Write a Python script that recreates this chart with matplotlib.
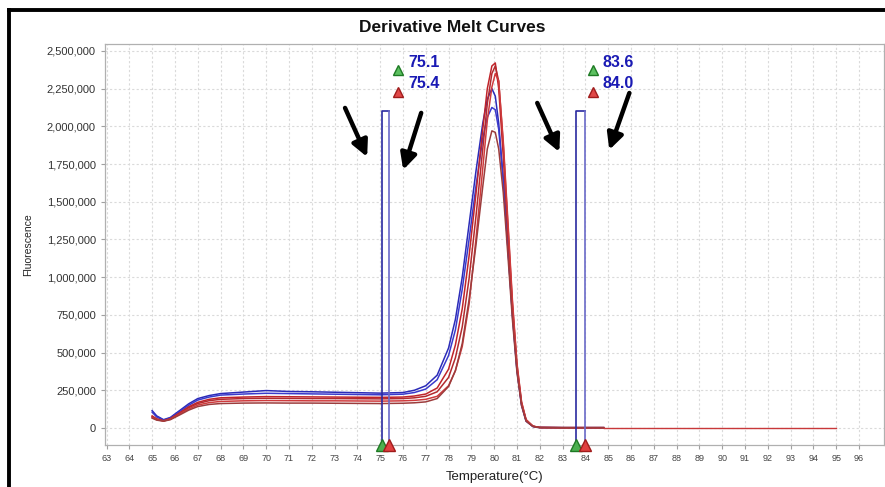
import numpy as np
import matplotlib
matplotlib.use('Agg')
import matplotlib.pyplot as plt
from matplotlib.lines import Line2D
from matplotlib.ticker import FuncFormatter, MultipleLocator

plt.rcParams['font.family'] = ['Liberation Sans', 'DejaVu Sans']

# temperature grid shared by the melt curves (deg C)
temps = [65.0, 65.2, 65.5, 65.8, 66.2, 66.6, 67.0, 67.5, 68.0, 69.0, 70.0,
         71.0, 72.0, 73.0, 74.0, 75.0, 76.0, 76.5, 77.0, 77.5, 78.0, 78.3,
         78.6, 78.9, 79.2, 79.5, 79.7, 79.9, 80.05, 80.2, 80.4, 80.6, 80.8,
         81.0, 81.2, 81.4, 81.7, 82.0, 83.0, 84.0, 84.8]

# -dF/dT values
blue_1 = [115e3, 80e3, 55e3, 70e3, 115e3, 160e3, 195e3, 215e3, 228e3, 238e3, 248e3,
          242e3, 240e3, 237e3, 234e3, 231e3, 235e3, 250e3, 280e3, 350e3, 530e3, 720e3,
          1000e3, 1350e3, 1700e3, 2020e3, 2180e3, 2250e3, 2200e3, 2020e3, 1650e3, 1200e3, 750e3,
          380e3, 150e3, 45e3, 10e3, 3e3, 2e3, 2e3, 2e3]
blue_2 = [105e3, 72e3, 52e3, 66e3, 108e3, 150e3, 185e3, 205e3, 218e3, 225e3, 230e3,
          228e3, 226e3, 224e3, 222e3, 220e3, 224e3, 235e3, 258e3, 320e3, 480e3, 650e3,
          920e3, 1250e3, 1600e3, 1920e3, 2060e3, 2125e3, 2110e3, 1980e3, 1640e3, 1200e3, 760e3,
          390e3, 160e3, 50e3, 10e3, 3e3, 2e3, 2e3, 2e3]
red_1 = [80e3, 60e3, 48e3, 62e3, 100e3, 140e3, 170e3, 190e3, 200e3, 205e3, 208e3,
         207e3, 206e3, 205e3, 204e3, 203e3, 205e3, 212e3, 225e3, 265e3, 390e3, 550e3,
         790e3, 1140e3, 1550e3, 1980e3, 2250e3, 2400e3, 2420e3, 2250e3, 1800e3, 1300e3, 800e3,
         400e3, 160e3, 50e3, 12e3, 3e3, 2e3, 2e3, 2e3]
red_2 = [75e3, 58e3, 47e3, 60e3, 96e3, 134e3, 162e3, 181e3, 190e3, 195e3, 197e3,
         196e3, 195e3, 195e3, 194e3, 193e3, 195e3, 200e3, 210e3, 240e3, 335e3, 465e3,
         670e3, 990e3, 1400e3, 1850e3, 2150e3, 2350e3, 2400e3, 2300e3, 1880e3, 1350e3, 830e3,
         420e3, 170e3, 55e3, 12e3, 3e3, 2e3, 2e3, 2e3]
red_3 = [70e3, 55e3, 46e3, 58e3, 92e3, 126e3, 152e3, 168e3, 176e3, 180e3, 182e3,
         181e3, 180e3, 180e3, 179e3, 178e3, 180e3, 183e3, 190e3, 210e3, 280e3, 380e3,
         540e3, 820e3, 1250e3, 1720e3, 2040e3, 2260e3, 2350e3, 2300e3, 1900e3, 1380e3, 850e3,
         430e3, 175e3, 55e3, 12e3, 3e3, 2e3, 2e3, 2e3]
red_4 = [65e3, 52e3, 45e3, 55e3, 86e3, 118e3, 142e3, 156e3, 162e3, 165e3, 166e3,
         165e3, 165e3, 164e3, 163e3, 162e3, 164e3, 167e3, 173e3, 195e3, 275e3, 380e3,
         560e3, 850e3, 1210e3, 1600e3, 1850e3, 1970e3, 1960e3, 1850e3, 1560e3, 1150e3, 720e3,
         370e3, 150e3, 45e3, 10e3, 3e3, 2e3, 2e3, 2e3]

curves = [blue_1, blue_2, red_1, red_2, red_3, red_4]
curve_colors = ['#2b2bb8', '#3a3acc', '#c0242a', '#b32a2e', '#cf3a3c', '#9c3c3c']

# one red trace keeps going to the end of the run
tail_x = [84.8, 95.0]
tail_y = [2e3, 2e3]

# melt peak markers
marker_lo = [75.1, 75.4]
marker_hi = [83.6, 84.0]
marker_top = 2100000

fig = plt.figure(figsize=(8.85, 4.87), dpi=100)
ax = fig.add_axes([0.1186, 0.0862, 0.8803, 0.8235])

for ys, c in zip(curves, curve_colors):
    ax.plot(temps, ys, color=c, lw=1.1)
ax.plot(tail_x, tail_y, color='#c8383a', lw=1.0)

ax.set_xlim(62.93, 97.1)
ax.set_ylim(-113000, 2546000)
ymin = ax.get_ylim()[0]

# marker windows
for a, b in (marker_lo, marker_hi):
    ax.plot([a, a, b], [ymin, marker_top, marker_top], color='#2a2aa0', lw=1.2)
    ax.plot([b, b], [marker_top, ymin], color='#6a6ac8', lw=1.2)
    ax.plot([a], [ymin], marker='^', ms=8, mfc='#4cb050', mec='#1e7a24', clip_on=False, zorder=5)
    ax.plot([b], [ymin], marker='^', ms=8, mfc='#e04040', mec='#a01c1c', clip_on=False, zorder=5)

# value labels
for a, b, tx in ((marker_lo[0], marker_lo[1], 75.8), (marker_hi[0], marker_hi[1], 84.35)):
    ax.plot([tx], [2374000], marker='^', ms=7, mfc='#5cc060', mec='#1e7a24')
    ax.plot([tx], [2228000], marker='^', ms=7, mfc='#e04848', mec='#a01c1c')
    ax.text(tx + 0.42, 2420000, f'{a:.1f}', color='#1a1ab4', fontsize=11.5,
            fontweight='bold', va='center', ha='left')
    ax.text(tx + 0.42, 2281000, f'{b:.1f}', color='#1a1ab4', fontsize=11.5,
            fontweight='bold', va='center', ha='left')

# black arrows
arrows = [((73.46, 2122000), (74.43, 1797000)),
          ((76.80, 2089000), (76.01, 1711000)),
          ((81.89, 2155000), (82.86, 1830000)),
          ((85.93, 2221000), (85.05, 1844000))]
for tail, tip in arrows:
    ax.annotate('', xy=tip, xytext=tail,
                arrowprops=dict(arrowstyle='-|>,head_length=0.6,head_width=0.3',
                                lw=3.2, color='black', mutation_scale=16,
                                shrinkA=0, shrinkB=0))

ax.set_xticks(range(63, 97))
ax.yaxis.set_major_locator(MultipleLocator(250000))
ax.yaxis.set_major_formatter(FuncFormatter(lambda v, p: f'{int(v):,}'))
ax.grid(True, color='#dadada', linestyle=(0, (2, 2)), lw=0.8)
ax.set_axisbelow(True)
for s in ax.spines.values():
    s.set_color('#b0b0b0')
    s.set_linewidth(0.9)
ax.tick_params(axis='y', labelsize=8, colors='#a0a0a0', labelcolor='#333333', length=3)
ax.tick_params(axis='x', labelsize=6.5, colors='#a0a0a0', labelcolor='#444444', length=3)

ax.set_xlabel('Temperature(°C)', fontsize=9.5, color='#222222', labelpad=6)
ax.set_ylabel('Fluorescence', fontsize=7.5, color='#222222', labelpad=10)
fig.text(0.511, 0.944, 'Derivative Melt Curves', ha='center', va='center',
         fontsize=12.5, fontweight='bold', color='#111111')

# black frame at top and left
fig.add_artist(Line2D([0.0102, 1.0], [0.9795, 0.9795], color='black', lw=2.8,
                      transform=fig.transFigure))
fig.add_artist(Line2D([0.0102, 0.0102], [0.0, 0.9795], color='black', lw=2.8,
                      transform=fig.transFigure))

fig.savefig('out.png', dpi=100)
